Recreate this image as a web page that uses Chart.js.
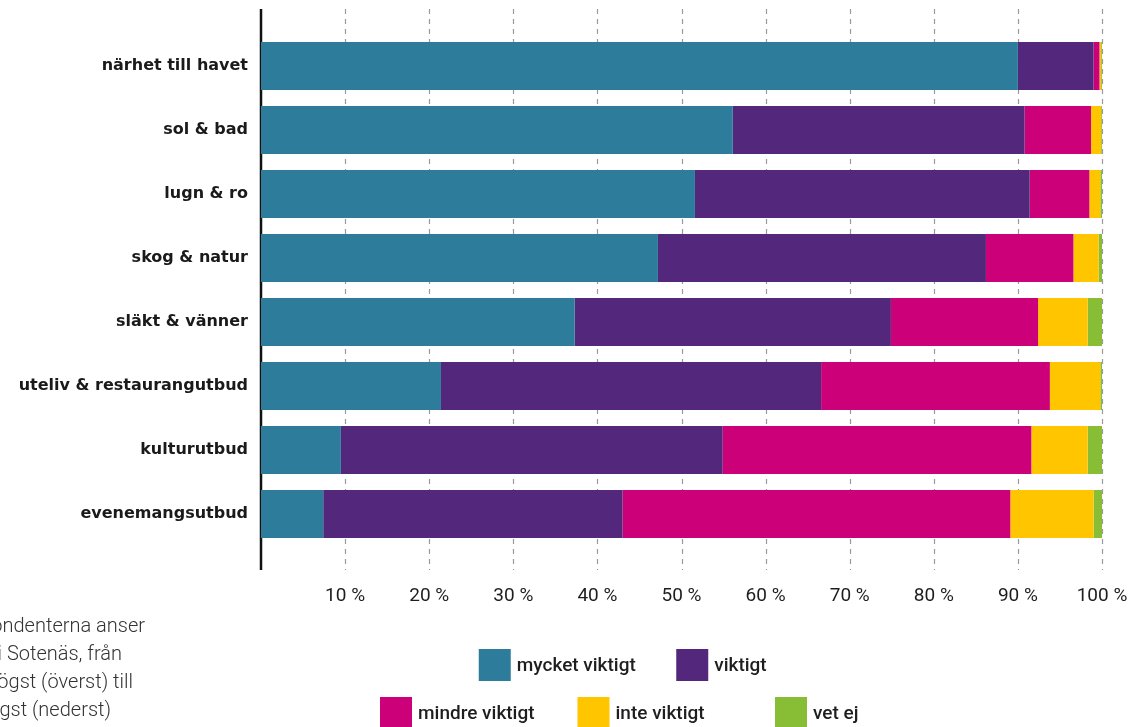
<!DOCTYPE html>
<html lang="sv">
<head>
<meta charset="utf-8">
<script src="https://cdn.jsdelivr.net/npm/chart.js@4.4.1/dist/chart.umd.min.js"></script>
<style>
html, body { margin: 0; padding: 0; background: #fff; }
#wrap { width: 1141px; height: 727px; position: relative; }
</style>
</head>
<body>
<div id="wrap"><canvas id="chart"></canvas></div>
<script>
const categories = ['närhet till havet', 'sol & bad', 'lugn & ro', 'skog & natur', 'släkt & vänner', 'uteliv & restaurangutbud', 'kulturutbud', 'evenemangsutbud'];

const mycketViktigt = [90.0, 56.1, 51.6, 47.2, 37.3, 21.4, 9.5, 7.4];
const viktigt       = [9.0, 34.7, 39.8, 39.0, 37.6, 45.2, 45.4, 35.6];
const mindreViktigt = [0.7, 7.9, 7.1, 10.4, 17.5, 27.2, 36.7, 46.1];
const inteViktigt   = [0.2, 1.2, 1.3, 3.0, 5.9, 6.0, 6.7, 9.9];
const vetEj         = [0.1, 0.1, 0.2, 0.4, 1.7, 0.2, 1.7, 1.0];

const seriesNames = ['mycket viktigt', 'viktigt', 'mindre viktigt', 'inte viktigt', 'vet ej'];
const seriesColors = ['#2d7c9b', '#53277b', '#cc0078', '#ffc600', '#88be35'];
const seriesData = [mycketViktigt, viktigt, mindreViktigt, inteViktigt, vetEj];

const xTicks = [10, 20, 30, 40, 50, 60, 70, 80, 90, 100];

const noteLines = ['Vad respondenterna anser', 'är viktigast i Sotenäs, från', 'högst (överst) till', 'lägst (nederst)'];

// dashed grid + axis line, a bit taller than the plot area
const gridPlugin = {
  id: 'gridLines',
  beforeDatasetsDraw(chart) {
    const ctx = chart.ctx, area = chart.chartArea, xs = chart.scales.x;
    const top = area.top - 25, bottom = area.bottom + 24;
    ctx.save();
    ctx.strokeStyle = '#9a9a9a';
    ctx.lineWidth = 1.2;
    ctx.setLineDash([5, 5]);
    xTicks.forEach(v => {
      const x = Math.round(xs.getPixelForValue(v)) + 0.5;
      ctx.beginPath();
      ctx.moveTo(x, top);
      ctx.lineTo(x, bottom);
      ctx.stroke();
    });
    ctx.setLineDash([]);
    ctx.strokeStyle = '#111';
    ctx.lineWidth = 2.5;
    ctx.beginPath();
    ctx.moveTo(area.left, top);
    ctx.lineTo(area.left, bottom);
    ctx.stroke();
    ctx.restore();
  }
};

// legend in two rows + the note at bottom left
const extrasPlugin = {
  id: 'extras',
  afterDraw(chart) {
    const ctx = chart.ctx;
    const rows = [[0, 1], [2, 3, 4]];
    const pitch = 197.5, startX = 380, size = 32;
    const rowY = [649, 697];
    ctx.save();
    ctx.font = '500 19px Roboto';
    ctx.textBaseline = 'middle';
    ctx.textAlign = 'left';
    rows.forEach((row, r) => {
      const offset = r === 0 ? pitch / 2 : 0;
      row.forEach((i, c) => {
        const x = startX + offset + c * pitch;
        ctx.fillStyle = seriesColors[i];
        ctx.fillRect(x, rowY[r], size, size);
        ctx.fillStyle = '#1e1e1e';
        ctx.fillText(seriesNames[i], x + 38, rowY[r] + size / 2 + 1);
      });
    });

    ctx.font = '300 20px Roboto';
    ctx.fillStyle = '#333';
    ctx.textAlign = 'right';
    ctx.textBaseline = 'alphabetic';
    const ends = [145, 122, 133, 111];
    noteLines.forEach((t, i) => ctx.fillText(t, ends[i], 632 + i * 28));
    ctx.restore();
  }
};

new Chart(document.getElementById('chart'), {
  type: 'bar',
  data: {
    labels: categories,
    datasets: seriesData.map((d, i) => ({
      label: seriesNames[i],
      data: d,
      backgroundColor: seriesColors[i],
      borderWidth: 0,
      barPercentage: 0.75,
      categoryPercentage: 1
    }))
  },
  options: {
    indexAxis: 'y',
    responsive: true,
    maintainAspectRatio: false,
    animation: false,
    layout: { padding: { top: 34, right: 39, bottom: 121, left: 0 } },
    plugins: {
      legend: { display: false },
      tooltip: { enabled: false }
    },
    scales: {
      x: {
        stacked: true,
        min: 0,
        max: 100,
        grid: { display: false, drawTicks: false },
        border: { display: false },
        afterBuildTicks: s => { s.ticks = xTicks.map(v => ({ value: v })); },
        afterFit: s => { s.height = 60; s.paddingRight = 0; s.paddingLeft = 0; },
        ticks: {
          padding: 39,
          maxRotation: 0,
          color: '#1e1e1e',
          font: { family: 'Roboto', size: 19 },
          callback: v => v + ' %'
        }
      },
      y: {
        stacked: true,
        grid: { display: false, drawTicks: false },
        border: { display: false },
        afterFit: s => { s.width = 261; },
        ticks: {
          padding: 13,
          color: '#1a1a1a',
          font: { family: 'DejaVu Sans', size: 16, weight: 'bold' }
        }
      }
    }
  },
  plugins: [gridPlugin, extrasPlugin]
});
</script>
</body>
</html>
